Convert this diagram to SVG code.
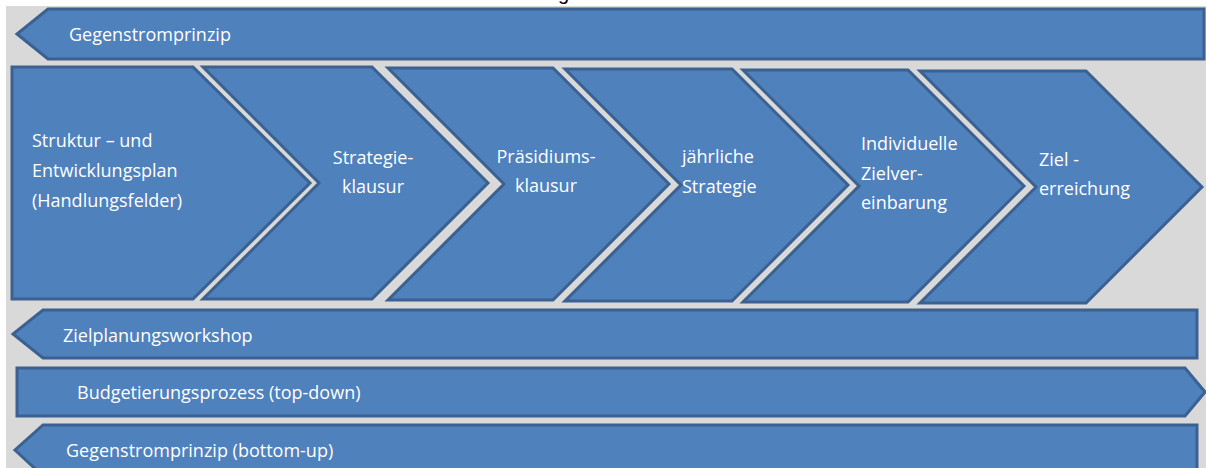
<svg xmlns="http://www.w3.org/2000/svg" width="1206" height="468" viewBox="0 0 1206 468">
  <style>
    .shape { fill: #4f81bd; stroke: #3b6190; stroke-width: 3; stroke-linejoin: miter; }
    .lbl { font-family: "Open Sans", "Liberation Sans", sans-serif; font-size: 18px; fill: #ffffff; }
    .mid { text-anchor: middle; }
  </style>

  <!-- canvas -->
  <rect x="0" y="0" width="1206" height="468" fill="#ffffff"/>
  <rect x="6" y="6" width="1200" height="462" fill="#d9d9d9"/>
  <text x="558" y="0" font-family="Liberation Sans, sans-serif" font-size="20" fill="#000000">g</text>

  <!-- top band -->
  <g id="band-top">
    <polygon class="shape" points="48,9 1204,9 1204,59 48,59 17,34"/>
    <text class="lbl" x="69" y="41">Gegenstromprinzip</text>
  </g>

  <!-- process chevrons -->
  <g id="step-1">
    <polygon class="shape" points="12,67 193,67 310,183 193,299 12,299"/>
    <text class="lbl" x="32" y="147">Struktur – und</text>
    <text class="lbl" x="32" y="177">Entwicklungsplan</text>
    <text class="lbl" x="32" y="207">(Handlungsfelder)</text>
  </g>
  <g id="step-2">
    <polygon class="shape" points="203,67 372,67 488,183 372,299 203,299 319,183"/>
    <text class="lbl mid" x="373" y="164">Strategie-</text>
    <text class="lbl mid" x="373" y="193">klausur</text>
  </g>
  <g id="step-3">
    <polygon class="shape" points="388,68 553,68 669,184 553,300 388,300 504,184"/>
    <text class="lbl mid" x="546" y="163">Präsidiums-</text>
    <text class="lbl mid" x="546" y="192">klausur</text>
  </g>
  <g id="step-4">
    <polygon class="shape" points="565,69 732,69 848,185 732,301 565,301 681,185"/>
    <text class="lbl" x="682" y="163">jährliche</text>
    <text class="lbl" x="682" y="193">Strategie</text>
  </g>
  <g id="step-5">
    <polygon class="shape" points="743,70 908,70 1024,186 908,302 743,302 859,186"/>
    <text class="lbl" x="861" y="150">Individuelle</text>
    <text class="lbl" x="861" y="180">Zielver-</text>
    <text class="lbl" x="861" y="209">einbarung</text>
  </g>
  <g id="step-6">
    <polygon class="shape" points="920,71 1086,71 1202,187 1086,303 920,303 1036,187"/>
    <text class="lbl" x="1039" y="166">Ziel -</text>
    <text class="lbl" x="1039" y="195">erreichung</text>
  </g>

  <!-- lower bands -->
  <g id="band-workshop">
    <polygon class="shape" points="43,310 1197,310 1197,358 43,358 13,334"/>
    <text class="lbl" x="63" y="342">Zielplanungsworkshop</text>
  </g>
  <g id="band-budget">
    <polygon class="shape" points="17,368 1185,368 1205,392 1185,416 17,416"/>
    <text class="lbl" x="77" y="399">Budgetierungsprozess (top-down)</text>
  </g>
  <g id="band-bottom-up">
    <polygon class="shape" points="43,425 1197,425 1197,476 43,476 15,450"/>
    <text class="lbl" x="66" y="457">Gegenstromprinzip (bottom-up)</text>
  </g>

  <!-- no connectors in this figure -->
  <g id="connectors"/>
</svg>
